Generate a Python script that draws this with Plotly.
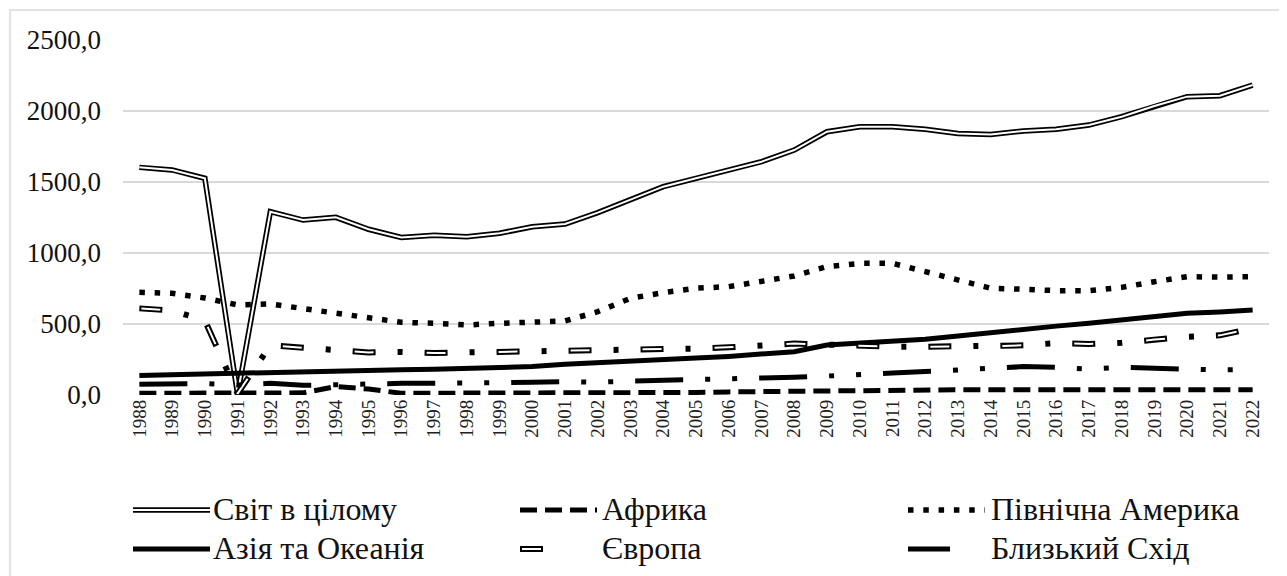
import plotly.graph_objects as go

years = list(range(1988, 2023))
world = [1603, 1585, 1526, 5, 1291, 1232, 1251, 1167, 1110, 1125,
         1115, 1139, 1185, 1204, 1284, 1373, 1467, 1526, 1585, 1643,
         1725, 1854, 1889, 1889, 1872, 1842, 1835, 1859, 1871, 1901,
         1960, 2035, 2101, 2108, 2183]
africa = [12, 12, 12, 12, 14, 15, 60, 42, 12, 12,
          12, 13, 14, 15, 16, 16, 17, 18, 22, 25,
          28, 32, 34, 36, 37, 37, 37, 37, 37, 37,
          37, 37, 37, 37, 37]
north_america = [723, 716, 683, 634, 641, 610, 575, 540, 512, 505,
                 493, 505, 516, 521, 587, 681, 721, 752, 763, 798,
                 838, 904, 927, 927, 868, 803, 752, 745, 735, 735,
                 758, 798, 833, 830, 833]
asia_oceania = [138, 144, 150, 156, 162, 167, 172, 175, 178, 181,
                188, 195, 200, 216, 225, 235, 246, 260, 272, 286,
                305, 352, 364, 375, 392, 415, 440, 462, 485, 505,
                530, 552, 575, 585, 599]
europe = [610, 595, 525, 10, 350, 330, 315, 300, 303, 295,
          300, 303, 306, 310, 317, 324, 325, 327, 336, 347,
          362, 355, 345, 340, 340, 340, 342, 350, 365, 360,
          368, 390, 410, 420, 470]
middle_east = [75, 75, 80, 70, 82, 68, 75, 80, 82, 82,
               82, 85, 90, 94, 90, 98, 102, 105, 112, 120,
               125, 134, 141, 155, 165, 176, 188, 200, 195, 183,
               195, 190, 181, 176, 181]

names = ["Світ в цілому", "Африка", "Північна Америка",
         "Азія та Океанія", "Європа", "Близький Схід"]
y_ticks = [0, 500, 1000, 1500, 2000, 2500]

SERIF = "Times New Roman"

# page offset introduced by the html body margin
OFF = 8
W, H = 1287 - OFF, 576 - OFF
# plot area in page pixels: x 123..1269, y 40..395
PL, PR, PT, PB = 123, 1269, 40, 395
ML, MR, MT, MB = PL - OFF, W - (PR - OFF), PT - OFF, H - (PB - OFF)
PW = PR - PL
PH = PB - PT


def px(x):
    return (x - PL) / PW


def py(y):
    return (PB - y) / PH


# style definitions: list of (color, width, dash) layers
styles = {
    names[0]: [("black", 5.5, "solid"), ("white", 2.0, "solid")],
    names[1]: [("black", 5, "17px,8px")],
    names[2]: [("black", 5.5, "5.5px,9.8px")],
    names[3]: [("black", 5, "solid")],
    names[4]: [("black", 6, "23px,22px,5px,22px"), ("white", 2.0, "0px,2px,19px,51px")],
    names[5]: [("black", 5, "48px,22px,5px,22px,5px,22px")],
}
series = [world, africa, north_america, asia_oceania, europe, middle_east]

fig = go.Figure()
for name, vals in zip(names, series):
    for color, width, dash in styles[name]:
        fig.add_trace(go.Scatter(
            x=years, y=vals, mode="lines", name=name, showlegend=False,
            hoverinfo="skip",
            line=dict(color=color, width=width, dash=dash),
        ))

# outer chart border
fig.add_shape(type="rect", xref="paper", yref="paper",
              x0=px(10), x1=px(1300), y0=py(600), y1=py(10),
              line=dict(color="#d9d9d9", width=1.5), layer="below")

# manual legend
cols = [(133, 211), (520, 600), (908, 989)]
rows = [510, 549]
leg_len = {names[0]: 77, names[1]: 77, names[2]: 77, names[3]: 77,
           names[4]: 45, names[5]: 42}
for i, name in enumerate(names):
    cx, tx = cols[i % 3]
    ry = rows[i // 3]
    layers = styles[name]
    if name == names[5]:
        layers = [("black", 5, "solid")]
    for color, width, dash in layers:
        fig.add_shape(type="line", xref="paper", yref="paper",
                      x0=px(cx), x1=px(cx + leg_len[name]),
                      y0=py(ry), y1=py(ry),
                      line=dict(color=color, width=width, dash=dash))
    fig.add_annotation(xref="paper", yref="paper", x=px(tx), y=py(ry - 1),
                       xanchor="left", yanchor="middle", showarrow=False,
                       text=name,
                       font=dict(family=SERIF, size=32, color="#111111"))

fig.update_layout(
    width=W, height=H,
    margin=dict(l=ML, r=MR, t=MT, b=MB, autoexpand=False),
    paper_bgcolor="white", plot_bgcolor="white",
    separators=", ",
    showlegend=False,
)
fig.update_xaxes(
    range=[1987.5, 2022.5], tickmode="array", tickvals=years,
    ticktext=[str(y) for y in years], tickangle=-90,
    showgrid=False, zeroline=False, showline=False, ticks="",
    tickfont=dict(family=SERIF, size=19, color="#222222"),
    fixedrange=True, automargin=False,
)
fig.update_yaxes(
    range=[0, 2500], tickmode="array", tickvals=y_ticks, tickformat=".1f",
    showgrid=True, gridcolor="#d9d9d9", gridwidth=1.5,
    zeroline=False, showline=False, ticks="",
    ticklabelstandoff=21,
    tickfont=dict(family=SERIF, size=27, color="#111111"),
    fixedrange=True, automargin=False,
)

fig.write_html("out.html")
